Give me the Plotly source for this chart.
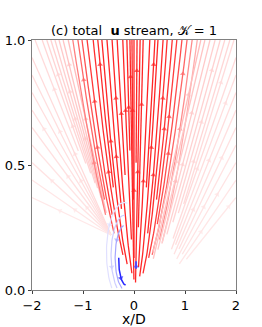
import numpy as np
import plotly.graph_objects as go

# ---------------- data ----------------
# streamlines leaving through the top edge (y = 1): exit x, colour value, visible start height
top_exit_x = [-1.94, -1.80, -1.71, -1.63, -1.55, -1.47, -1.39, -1.29,
              -1.20, -1.10, -1.02, -0.92, -0.80, -0.71, -0.63, -0.53, -0.43, -0.33,
              -0.22, -0.14, -0.08, -0.04, 0.00, 0.06, 0.12, 0.18, 0.31, 0.41, 0.47,
              0.57, 0.65, 0.75, 0.84, 0.94, 1.04, 1.14, 1.24,
              1.31, 1.39, 1.49, 1.59, 1.69, 1.78, 1.88, 1.96]
top_value = [0.14, 0.16, 0.17, 0.18, 0.19, 0.21, 0.23, 0.26,
             0.50, 0.60, 0.68, 0.78, 0.82, 0.84, 0.85, 0.85, 0.85, 0.85,
             0.85, 0.85, 0.85, 0.85, 0.85, 0.85, 0.85, 0.85, 0.85, 0.85, 0.85,
             0.84, 0.82, 0.80, 0.76, 0.70, 0.60, 0.45, 0.32,
             0.26, 0.23, 0.21, 0.19, 0.18, 0.17, 0.16, 0.14]
top_start_y = [0.55, 0.50, 0.46, 0.42, 0.40, 0.36, 0.33, 0.30,
               0.30, 0.35, 0.22, 0.30, 0.14, 0.40, 0.10, 0.32, 0.06, 0.45,
               0.20, 0.55, 0.04, 0.35, 0.12, 0.50, 0.03, 0.25, 0.08, 0.40, 0.05,
               0.22, 0.06, 0.35, 0.12, 0.26, 0.14, 0.20, 0.18,
               0.14, 0.12, 0.16, 0.18, 0.22, 0.26, 0.30, 0.34]
top_root_x = [-0.45, -0.45, -0.45, -0.45, -0.45, -0.45, -0.45, -0.45,
              0, 0, 0, 0, 0, 0, 0, 0, 0, 0,
              0, 0, 0, 0, 0, 0.02, 0.03, 0.05, 0.06, 0.07, 0.08,
              0.09, 0.10, 0.10, 0.10, 0.10, 0.10, 0.15, 0.20,
              0.25, 0.28, 0.32, 0.36, 0.40, 0.44, 0.48, 0.52]

# streamlines leaving through the side edges: exit height, colour value
left_exit_y = [0.93, 0.86, 0.79, 0.72, 0.65, 0.58, 0.51, 0.44, 0.37]
left_value = [0.14, 0.13, 0.13, 0.12, 0.12, 0.11, 0.11, 0.10, 0.09]
right_exit_y = [0.93, 0.86, 0.79, 0.72, 0.65, 0.58, 0.51, 0.44, 0.37]
right_value = [0.14, 0.13, 0.13, 0.12, 0.12, 0.11, 0.11, 0.10, 0.09]
right_root_x = [0.50, 0.53, 0.56, 0.59, 0.62, 0.65, 0.68, 0.71, 0.74]
right_start_y = [0.20, 0.16, 0.18, 0.14, 0.16, 0.12, 0.14, 0.10, 0.12]

# recirculating (blue) streamlines near the source: ellipse arcs
arc_cx = [-0.16, -0.17, -0.18, -0.19]
arc_cy = [0.12, 0.13, 0.14, 0.15]
arc_rx = [0.14, 0.20, 0.27, 0.35]
arc_ry = [0.10, 0.13, 0.16, 0.20]
arc_a0 = [175, 100, 90, 80]
arc_a1 = [268, 255, 245, 235]
arc_value = [-0.85, -0.35, -0.20, -0.12]

XMIN, XMAX, YMIN, YMAX = -2, 2, 0, 1


def bwr(v):
    v = max(-1.0, min(1.0, v))
    if v >= 0:
        g = int(round(255 * (1 - v)))
        return f"rgb(255,{g},{g})"
    r = int(round(255 * (1 + v)))
    return f"rgb({r},{r},255)"


fig = go.Figure()
arrow_fracs = [0.55, 0.30, 0.75, 0.45, 0.65, 0.38, 0.85]


def add_curve(xs, ys, val, idx, width=1.3):
    col = bwr(val)
    fig.add_trace(go.Scatter(x=xs, y=ys, mode="lines",
                             line=dict(color=col, width=width),
                             hoverinfo="skip", showlegend=False))
    n = len(xs)
    if n < 4:
        return
    k = int(arrow_fracs[idx % len(arrow_fracs)] * (n - 2)) + 1
    fig.add_trace(go.Scatter(x=[xs[k - 1], xs[k]], y=[ys[k - 1], ys[k]], mode="markers",
                             marker=dict(symbol="triangle-up", size=[0, 5], color=col,
                                         angleref="previous", line=dict(width=0)),
                             hoverinfo="skip", showlegend=False))


def ray(root_x, root_y, end_x, end_y, p, y_start, val, idx, width=1.3):
    t = np.linspace(0, 1, 80)
    ys = root_y + (end_y - root_y) * t
    xs = root_x + (end_x - root_x) * t ** p
    m = ys >= y_start
    add_curve(list(xs[m]), list(ys[m]), val, idx, width)


idx = 0
for ex, v, ys0, rx in zip(top_exit_x, top_value, top_start_y, top_root_x):
    if ex < -1.25:
        ry, p = 0.22, 1.0
    elif ex > 1.28:
        ry, p = 0.04, 1.0
    else:
        ry = 0.03
        p = 1.0 - 0.4 * min(abs(ex), 0.6) / 0.6
    ray(rx, ry, ex, 1.0, p, ys0, v, idx)
    idx += 1

for ey, v in zip(left_exit_y, left_value):
    ray(-0.45, 0.22, -2.0, ey, 1.0, 0.0, v, idx)
    idx += 1
for ey, v, rx, sy in zip(right_exit_y, right_value, right_root_x, right_start_y):
    ray(rx, 0.05, 2.0, ey, 1.0, sy, v, idx)
    idx += 1

for cx, cy, rxx, ryy, a0, a1, v in zip(arc_cx, arc_cy, arc_rx, arc_ry, arc_a0, arc_a1, arc_value):
    a = np.radians(np.linspace(a0, a1, 50))
    xs = cx + rxx * np.cos(a)
    ys = cy + ryy * np.sin(a)
    m = ys >= 0.005
    add_curve(list(xs[m]), list(ys[m]), v, idx, 1.5 if v < -0.5 else 1.2)
    idx += 1

# short blue segment beside the axis of the jet
add_curve([0.04, 0.04, 0.04, 0.04], [0.085, 0.095, 0.105, 0.115], -0.7, 1, 2.0)

axis_common = dict(showline=True, mirror=True, linecolor="#808080", linewidth=1,
                   ticks="outside", ticklen=3, tickcolor="#404040", showgrid=False,
                   zeroline=False, automargin=False,
                   tickfont=dict(family="DejaVu Sans", size=13, color="black"))

fig.update_layout(
    width=262, height=327,
    margin=dict(l=32, r=26, t=40, b=37),
    paper_bgcolor="white", plot_bgcolor="white",
    xaxis=dict(range=[XMIN, XMAX], tickvals=[-2, -1, 0, 1, 2], **axis_common),
    yaxis=dict(range=[YMIN, YMAX], tickvals=[0, 0.5, 1], ticktext=["0.0", "0.5", "1.0"],
               **axis_common),
    annotations=[
        dict(text="(c) total  <b>u</b> stream, 𝒦 = 1", xref="paper", yref="paper",
             x=0.5, y=1, yanchor="bottom", yshift=0, showarrow=False,
             font=dict(family="DejaVu Sans", size=13, color="black")),
        dict(text="x/D", xref="paper", yref="paper", x=0.5, y=0, yanchor="middle",
             yshift=-29, showarrow=False, borderpad=0,
             font=dict(family="DejaVu Sans", size=14, color="black")),
    ],
)

fig.write_html("out.html", config={"displayModeBar": False},
               post_script="document.body.style.margin='0px';document.body.style.overflow='hidden';")
